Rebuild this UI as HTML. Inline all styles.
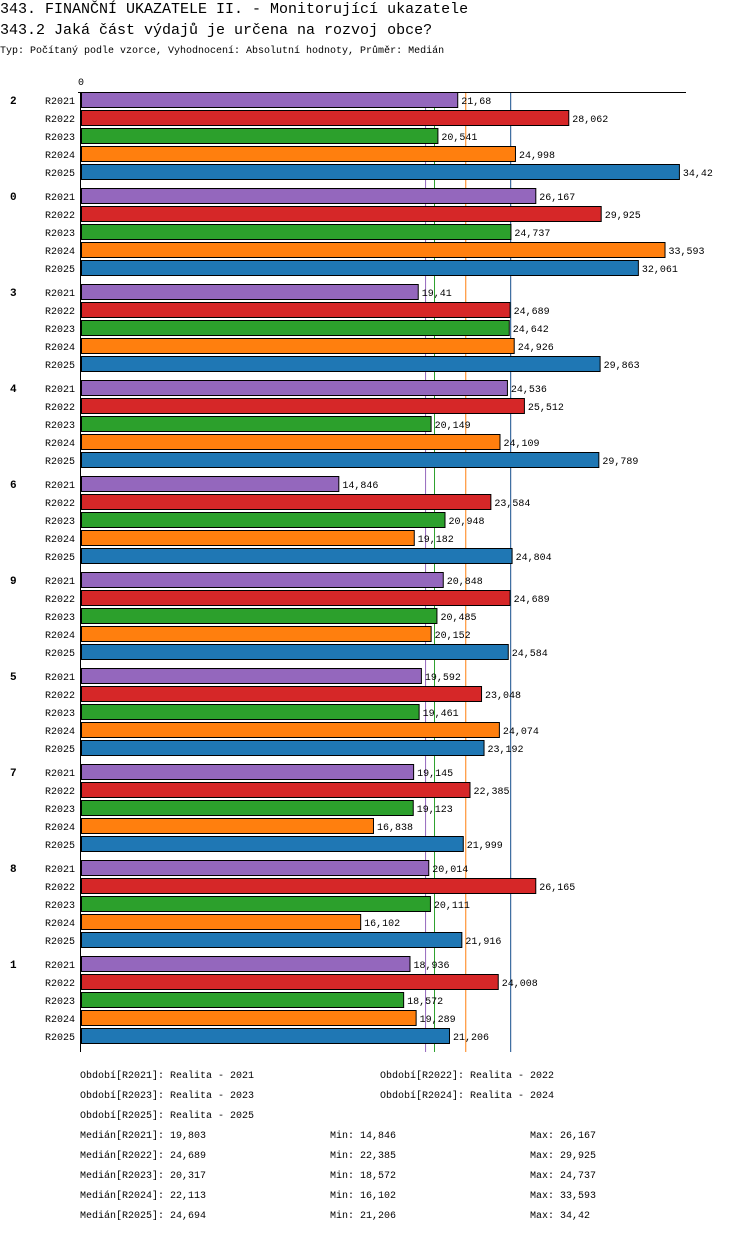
<!DOCTYPE html>
<html><head><meta charset="utf-8"><style>
body{margin:0;background:#fff;width:750px;height:1232px;overflow:hidden}
svg{font-family:"Liberation Mono",monospace}
</style></head><body>
<svg id="c" width="750" height="1232" xmlns="http://www.w3.org/2000/svg">
<text x="0" y="13" font-size="15">343. FINANČNÍ UKAZATELE II. - Monitorující ukazatele</text>
<text x="0" y="34" font-size="15">343.2 Jaká část výdajů je určena na rozvoj obce?</text>
<text x="0" y="53" font-size="10">Typ: Počítaný podle vzorce, Vyhodnocení: Absolutní hodnoty, Průměr: Medián</text>
<text x="78" y="85" font-size="10">0</text>
<g id="g"></g>
</svg>
<script>
const groups=["2","0","3","4","6","9","5","7","8","1"];
const series=["R2021","R2022","R2023","R2024","R2025"];
const colors=["#9467bd","#d62728","#2ca02c","#ff7f0e","#1f77b4"];
const v2021=[21.68,26.167,19.41,24.536,14.846,20.848,19.592,19.145,20.014,18.936];
const v2022=[28.062,29.925,24.689,25.512,23.584,24.689,23.048,22.385,26.165,24.008];
const v2023=[20.541,24.737,24.642,20.149,20.948,20.485,19.461,19.123,20.111,18.572];
const v2024=[24.998,33.593,24.926,24.109,19.182,20.152,24.074,16.838,16.102,19.289];
const v2025=[34.42,32.061,29.863,29.789,24.804,24.584,23.192,21.999,21.916,21.206];
const medians=[19.803,24.689,20.317,22.113,24.694];
const mins=[14.846,22.385,18.572,16.102,21.206];
const maxs=[26.167,29.925,24.737,33.593,34.42];
const vals=[v2021,v2022,v2023,v2024,v2025];
const x0=81,scale=17.4,top0=92,gstep=96,bstep=18;
const X=v=>x0+v*scale;
const fmt=v=>String(v).replace('.',',');
const g=document.getElementById('g');
const NS='http://www.w3.org/2000/svg';
function mk(t,a,txt){const e=document.createElementNS(NS,t);for(const k in a)e.setAttribute(k,a[k]);if(txt!==undefined)e.textContent=txt;g.appendChild(e);return e;}
const bottom=top0+groups.length*gstep-38;
medians.forEach((m,i)=>{
 const l=mk('line',{x1:X(m),x2:X(m),y1:top0,y2:bottom+38,stroke:colors[i],'stroke-width':1});
 
 
});
groups.forEach((gn,gi)=>{
 const gy=top0+gi*gstep;
 const t=mk('text',{x:10,y:gy+12,'font-size':11,'font-weight':'bold'},gn);
 
 
 series.forEach((s,si)=>{
  const y=gy+si*bstep;const v=vals[si][gi];
  const lb=mk('text',{x:75,y:y+12,'font-size':10,'text-anchor':'end'},s);
  
  
  const r=mk('rect',{x:x0+0.5,y:y+0.5,width:X(v)-x0-1,height:15,fill:colors[si],stroke:'#000','stroke-width':1});
  
  
  const vt=mk('text',{x:X(v)+3,y:y+12,'font-size':10},fmt(v));
  
  
 });
});
const ax=mk('line',{x1:78,x2:686,y1:92.5,y2:92.5,stroke:'#000','stroke-width':1});


const ay=mk('line',{x1:80.5,x2:80.5,y1:92,y2:bottom+38,stroke:'#000','stroke-width':1});


const leg=[[80,1078,"Období[R2021]: Realita - 2021"],[380,1078,"Období[R2022]: Realita - 2022"],[80,1098,"Období[R2023]: Realita - 2023"],[380,1098,"Období[R2024]: Realita - 2024"],[80,1118,"Období[R2025]: Realita - 2025"]];
leg.forEach(l=>{const e=mk('text',{x:l[0],y:l[1],'font-size':10},l[2]);
 
 });
series.forEach((s,i)=>{
 const y=1138+i*20;
 const a=mk('text',{x:80,y:y,'font-size':10},'Medián['+s+']: '+fmt(medians[i]));
 
 
 const b=mk('text',{x:330,y:y,'font-size':10},'Min: '+fmt(mins[i]));
 
 
 const c=mk('text',{x:530,y:y,'font-size':10},'Max: '+fmt(maxs[i]));
 
 
});
</script>
</body></html>
